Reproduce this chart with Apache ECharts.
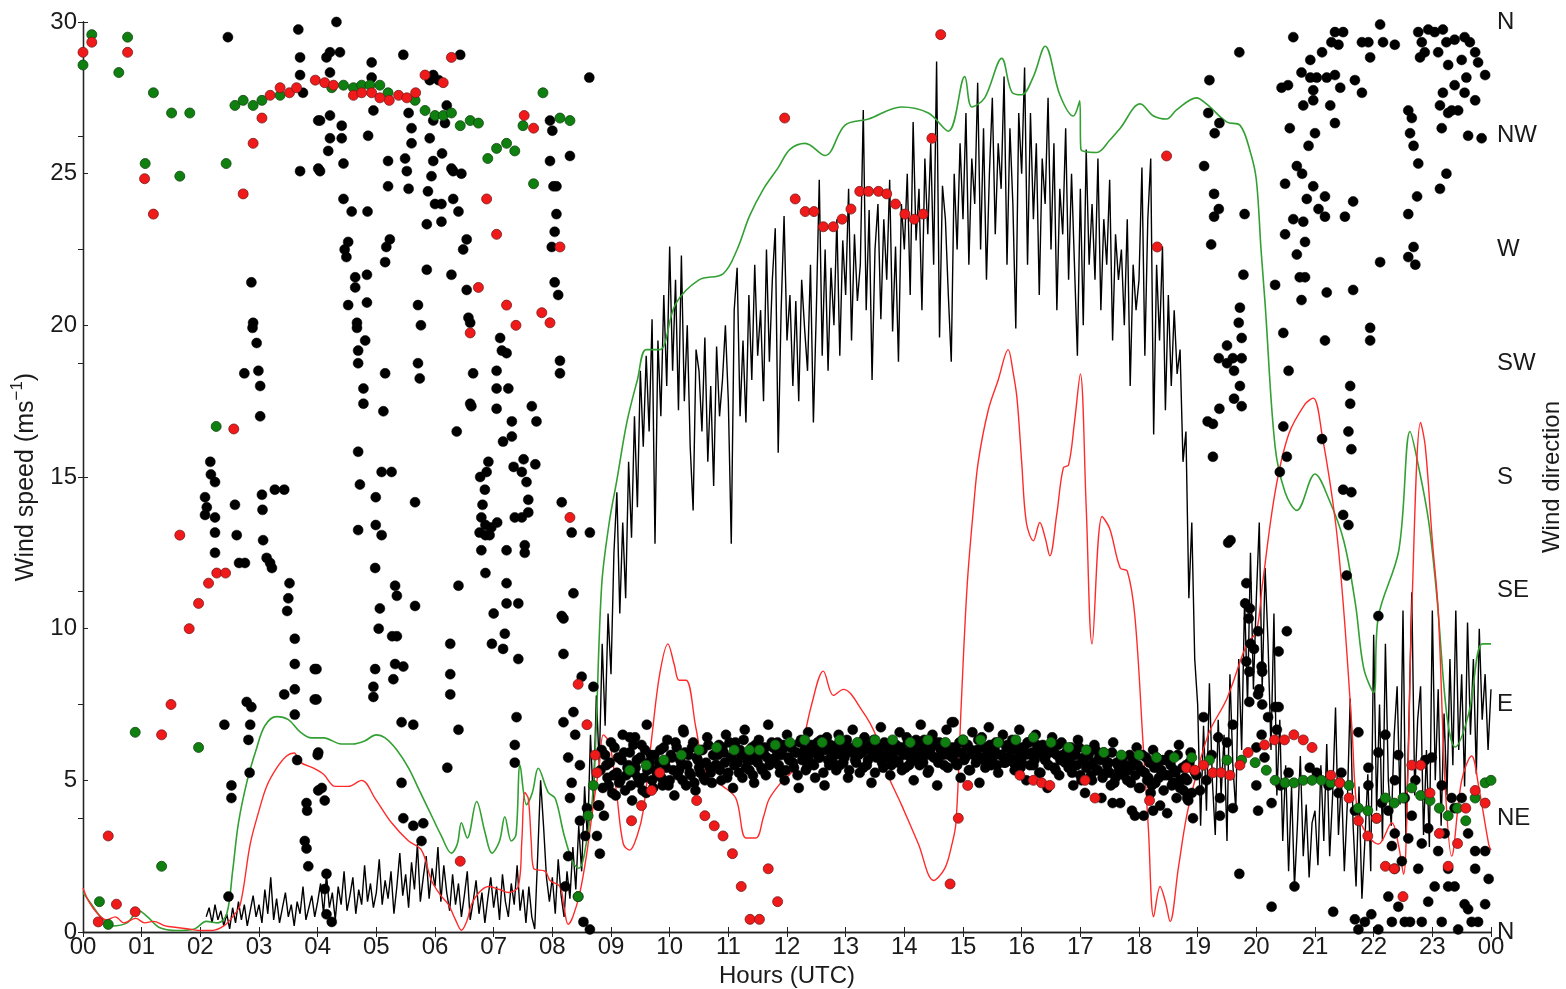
<!DOCTYPE html>
<html>
<head>
<meta charset="utf-8">
<script src="https://cdn.jsdelivr.net/npm/echarts@6/dist/echarts.min.js"></script>
<style>
html,body{margin:0;padding:0;background:#fff;}
#chart{width:1566px;height:989px;}
</style>
</head>
<body>
<div id="chart"></div>
<script>
// ---------- DATA ----------
const dirLabels = ['N','NE','E','SE','S','SW','W','NW','N'];

// black wind speed line: start 2.10 h, step 0.05 h
const blackSpeedStart = 2.10, blackSpeedStep = 0.05;
const blackSpeed = [
 0.5,0.8,0.3,0.9,0.4,0.7,0.2,0.6,0.1,0.8,0.3,1.0,0.4,0.9,0.2,0.7,1.2,0.5,
 0.9,0.3,1.4,0.6,1.8,0.4,1.1,0.3,0.8,1.3,0.5,0.9,0.2,1.0,0.6,1.5,0.4,0.8,1.2,0.5,
 1.0,1.6,0.6,1.9,0.8,1.3,0.4,1.5,0.9,2.0,0.7,1.2,1.8,0.6,1.4,0.9,2.2,1.0,1.6,0.8,
 1.3,2.4,0.9,1.7,1.1,2.0,0.6,1.5,2.6,1.2,1.9,0.8,2.3,1.4,2.9,1.0,1.8,2.5,1.1,2.1,
 1.5,2.8,1.0,2.2,1.3,0.7,1.9,0.9,1.6,0.5,1.2,2.0,0.4,1.0,1.7,0.6,1.3,0.3,1.1,1.8,
 0.8,1.5,0.4,1.9,1.0,0.5,1.6,0.9,2.2,0.7,1.4,0.3,1.5,0.5,0.1,2.5,5.0,3.5,1.8,1.0,
 1.8,0.6,2.4,1.2,0.5,2.0,1.1,2.8,1.4,3.5,2.0,4.8,3.0,6.5,4.2,7.8,5.5,9.5,6.8,10.5,
 8.5,12.5,14.5,10.5,13.5,11.0,15.5,13.0,17.0,14.0,18.5,16.0,19.0,16.5,20.2,12.8,19.5,17.0,21.0,18.0,
 22.6,18.5,21.5,17.2,22.3,17.5,20.0,16.0,13.9,19.2,18.5,16.5,19.6,15.5,18.0,14.7,19.3,17.0,18.2,20.0,
 17.5,12.8,20.5,21.9,17.0,19.5,16.8,21.0,18.2,22.0,19.0,20.5,17.5,22.5,18.8,21.5,23.2,15.8,20.5,23.6,
 19.5,21.0,18.0,20.8,17.5,21.5,19.9,18.5,22.0,16.8,20.5,24.8,19.0,22.5,18.5,21.9,20.0,23.5,19.0,22.8,
 21.0,24.5,19.5,23.0,20.8,22.0,27.1,20.5,23.8,18.2,22.5,24.0,20.2,23.5,21.5,24.8,19.8,22.6,18.8,24.0,
 22.5,25.0,21.0,26.7,22.8,24.5,20.5,25.5,23.0,26.0,22.0,28.7,19.6,24.6,23.5,21.0,18.8,25.0,22.5,26.0,
 23.5,27.0,22.0,25.5,24.0,28.0,22.5,26.5,21.5,25.0,27.5,23.0,26.0,24.5,28.2,22.0,26.5,24.0,19.9,27.0,
 25.0,28.5,22.0,27.0,23.5,26.0,21.0,25.5,24.0,27.5,22.5,26.0,20.5,24.5,23.0,26.5,21.5,25.0,22.0,19.0,
 24.5,20.0,25.8,22.0,24.0,21.5,25.5,20.5,23.5,22.0,24.8,19.5,23.0,21.5,22.5,20.0,23.5,18.0,22.0,20.5,
 21.5,25.2,19.0,23.5,25.5,16.4,22.0,19.5,22.6,17.2,21.0,18.0,20.5,18.4,19.2,15.5,16.5,11.0,13.5,9.0,
 7.5,3.5,6.8,4.0,8.2,5.0,3.2,7.0,4.5,6.5,3.0,8.5,5.5,4.0,9.0,6.0,11.0,7.5,12.5,8.0,
 11.0,13.5,8.0,12.0,9.5,6.0,10.5,4.5,7.0,3.0,5.5,2.0,4.8,1.5,3.5,5.8,2.5,4.2,1.8,3.6,
 4.0,2.2,5.5,3.0,6.2,2.5,4.5,7.4,3.2,5.0,2.0,4.2,7.7,3.5,1.5,4.8,1.1,3.0,5.2,2.0,
 9.8,4.0,7.5,3.0,9.5,5.0,3.5,6.5,8.1,4.2,10.6,3.0,6.8,11.2,4.5,7.0,8.1,3.2,6.0,2.8,
 10.6,5.0,8.0,3.5,7.2,4.5,9.0,5.5,10.6,6.0,8.5,4.8,10.2,6.5,9.0,5.2,10.0,7.0,8.5,6.0,
 8.0
];

// green smooth speed line [hour, m/s]
const greenLine = [
 [0,1.3],[0.15,0.9],[0.3,0.5],[0.5,0.2],[0.75,0.3],[0.95,0.7],[1.1,0.5],[1.3,0.15],[1.6,0.05],[1.9,0.1],
 [2.1,0.35],[2.3,0.3],[2.45,0.6],[2.55,2.0],[2.65,3.6],[2.8,5.0],[2.95,6.0],[3.1,6.8],[3.3,7.1],[3.5,7.0],
 [3.7,6.6],[3.9,6.4],[4.1,6.4],[4.4,6.2],[4.6,6.2],[4.8,6.3],[5.0,6.5],[5.15,6.4],[5.35,6.0],[5.55,5.4],
 [5.75,4.6],[5.95,3.8],[6.1,3.2],[6.28,2.6],[6.38,2.9],[6.45,3.6],[6.55,3.1],[6.71,4.3],[6.85,3.3],[6.97,2.6],
 [7.1,3.0],[7.19,3.8],[7.3,3.0],[7.38,3.2],[7.45,5.5],[7.56,4.2],[7.66,4.6],[7.76,5.4],[7.93,4.6],[8.05,4.4],
 [8.2,3.2],[8.35,2.3],[8.45,2.1],[8.55,2.6],[8.7,4.8],[8.84,11.4],[8.97,13.5],[9.1,14.9],[9.27,16.8],[9.45,18.2],
 [9.6,19.2],[9.83,19.2],[10.1,20.7],[10.5,21.5],[10.91,21.7],[11.15,22.5],[11.36,23.6],[11.6,24.5],[11.85,25.2],[12.05,25.8],
 [12.31,26.0],[12.65,25.6],[12.99,26.6],[13.39,26.8],[13.95,27.2],[14.41,27.0],[14.75,26.4],[15.03,28.2],[15.15,27.2],[15.37,27.5],
 [15.66,28.8],[15.83,27.7],[16.0,27.6],[16.2,28.2],[16.4,29.2],[16.65,27.6],[16.88,26.9],[16.99,27.4],[17.01,25.8],[17.28,25.7],
 [17.5,26.1],[17.68,26.5],[18.02,27.3],[18.25,26.9],[18.47,26.8],[18.64,27.1],[18.98,27.5],[19.15,27.3],[19.5,26.7],[19.72,26.6],
 [19.9,25.7],[20.0,24.8],[20.08,22.5],[20.15,20.7],[20.32,16.0],[20.49,14.5],[20.69,13.9],[21.0,15.1],[21.23,14.3],[21.49,12.9],
 [21.69,10.8],[21.83,8.7],[22.0,7.9],[22.08,10.4],[22.43,12.6],[22.62,16.5],[22.77,15.3],[22.94,13.5],[23.08,11.0],[23.25,7.1],
 [23.39,6.1],[23.62,7.2],[23.85,9.5],[24.0,9.5]
];

// red smooth speed line [hour, m/s]
const redLine = [
 [0,1.45],[0.1,1.0],[0.25,0.6],[0.4,0.4],[0.55,0.5],[0.7,0.3],[0.9,0.45],[1.05,0.3],[1.2,0.35],[1.4,0.2],
 [1.6,0.15],[1.8,0.1],[2.0,0.05],[2.2,0.05],[2.4,0.2],[2.55,0.5],[2.68,0.9],[2.85,2.9],[3.0,4.0],[3.13,4.8],
 [3.3,5.4],[3.47,5.8],[3.6,5.9],[3.7,5.6],[3.93,5.4],[4.1,5.2],[4.3,4.8],[4.52,4.8],[4.75,5.0],[4.98,4.4],
 [5.26,3.6],[5.55,3.0],[5.77,2.7],[5.94,1.7],[6.1,1.2],[6.23,0.9],[6.35,0.4],[6.45,0.06],[6.55,0.4],[6.62,0.9],
 [6.75,1.3],[6.91,1.5],[7.1,1.4],[7.25,1.3],[7.42,1.5],[7.48,3.0],[7.53,4.6],[7.59,4.4],[7.64,3.0],[7.68,2.1],
 [7.88,2.0],[7.96,1.7],[8.13,1.5],[8.2,0.8],[8.27,0.25],[8.35,0.5],[8.47,1.3],[8.58,2.5],[8.7,4.2],[8.8,5.5],
 [8.87,6.5],[8.98,6.2],[9.1,4.5],[9.21,2.9],[9.32,2.7],[9.45,3.2],[9.55,4.0],[9.7,6.5],[9.83,8.5],[9.97,9.5],
 [10.08,8.8],[10.16,8.3],[10.28,8.3],[10.45,6.7],[10.62,5.2],[10.91,4.8],[11.13,4.4],[11.3,3.1],[11.47,3.1],[11.6,3.8],
 [11.7,4.4],[11.93,5.0],[12.05,5.2],[12.19,5.6],[12.42,7.5],[12.62,8.6],[12.79,7.8],[12.96,8.0],[13.28,7.3],[13.51,6.5],
 [13.67,5.4],[13.95,4.2],[14.24,2.9],[14.5,1.7],[14.69,2.1],[14.8,2.8],[14.88,3.6],[14.97,7.5],[15.07,11.4],[15.18,14.0],
 [15.26,15.5],[15.43,17.2],[15.6,18.2],[15.77,19.2],[15.85,18.5],[15.92,17.6],[16.0,15.5],[16.08,13.5],[16.2,12.9],[16.31,13.5],
 [16.4,13.0],[16.48,12.4],[16.6,13.8],[16.71,15.3],[16.8,15.4],[16.9,16.8],[17.0,18.4],[17.1,14.0],[17.2,9.5],[17.37,13.7],
 [17.5,13.3],[17.68,12.0],[17.8,11.9],[17.93,10.4],[18.07,6.2],[18.16,3.4],[18.25,0.5],[18.36,1.5],[18.45,1.0],[18.53,0.35],
 [18.67,2.1],[18.81,3.8],[18.98,5.2],[19.2,6.6],[19.5,7.7],[19.84,9.5],[20.0,9.9],[20.1,11.4],[20.32,14.5],[20.55,16.4],
 [20.83,17.4],[20.97,17.6],[21.12,16.4],[21.35,13.5],[21.49,10.6],[21.63,6.7],[21.72,4.0],[21.86,3.3],[22.08,2.9],[22.31,3.6],
 [22.42,2.9],[22.51,1.9],[22.58,5.0],[22.65,10.6],[22.8,16.8],[22.88,16.0],[23.0,12.9],[23.1,10.6],[23.22,4.8],[23.33,2.5],
 [23.5,5.0],[23.67,5.8],[23.79,4.8],[23.96,2.9],[24.0,2.7]
];

// black wind direction dots, scattered [hour, degrees]
const blackDirScatter = [
 [2.47,354],[3.67,357],[3.70,346],[3.70,339],[3.75,332],[4.01,321],[3.70,301],[4.01,302],[2.87,257],[2.90,241],[2.89,239],[2.96,233],
 [2.75,221],[2.99,222],[3.02,216],[3.02,204],[2.17,186],[2.18,181],[2.25,178],[2.08,172],[2.11,168],[2.25,164],[2.08,165],[2.25,158],
 [2.25,150],[2.59,169],[2.62,157],[2.66,146],[2.76,146],[3.05,173],[3.06,167],[3.07,155],[3.13,148],[3.22,144],[3.19,146],[3.27,175],
 [3.43,175],[3.52,138],[3.50,132],[3.48,127],[3.61,116],[3.61,106],[3.95,104],[3.43,94],[3.61,96],[3.61,86],[3.95,92],[2.79,91],
 [2.87,89],[2.41,82],[2.85,82],[2.82,76],[2.84,63],[3.65,68],[2.53,58],[2.53,53],[3.81,51],[3.82,48],[4.01,56],[3.78,36],[3.81,33],
 [3.84,26],[2.48,14],[4.0,70],
 [4.32,360],[4.21,348],[4.38,348],[4.15,346],[4.92,344],[5.46,347],[4.21,340],[4.92,338],[6.43,347],[5.97,339],[5.91,337],[6.06,337],
 [4.04,321],[4.21,323],[4.41,319],[4.95,325],[5.55,324],[5.60,318],[6.20,327],[5.97,321],[6.17,320],[4.21,314],[4.41,314],[4.86,315],
 [5.60,312],[5.91,314],[4.18,309],[6.12,308],[4.04,301],[4.44,304],[5.20,305],[5.49,306],[5.97,305],[6.28,302],[6.45,300],[5.20,295],
 [5.52,301],[5.55,294],[5.94,299],[5.88,293],[6.31,301],[4.44,290],[4.58,285],[4.85,285],[5.86,280],[6.00,288],[6.11,288],[6.11,281],
 [6.31,290],[6.40,285],[4.52,273],[4.46,270],[4.49,267],[5.23,274],[5.17,271],[5.15,265],[6.54,274],[6.48,270],[5.86,262],[6.28,260],
 [4.64,259],[4.84,260],[4.64,255],[4.52,248],[4.84,249],[4.67,241],[4.67,239],[4.81,234],[4.69,230],[4.69,225],[5.71,248],[5.76,240],
 [5.71,225],[5.74,219],[6.54,254],[6.57,243],[6.60,241],[7.11,235],[7.14,230],[7.22,229],[7.05,222],[5.15,221],[6.65,221],[4.78,215],
 [4.78,209],[5.12,206],[6.60,209],[6.62,208],[7.05,215],[7.25,215],[7.05,207],[7.31,202],[7.65,208],[7.73,202],[6.37,198],[7.31,196],
 [7.16,194],[4.69,190],[5.09,182],[5.26,182],[4.72,177],[6.91,186],[6.88,182],[6.77,180],[6.85,175],[7.34,184],[7.51,187],[7.48,182],
 [7.56,178],[7.71,185],[4.99,172],[5.66,170],[7.59,171],[7.59,166],[4.69,159],[4.99,161],[5.09,157],[6.81,169],[6.79,164],[6.86,161],
 [6.96,160],[7.06,162],[6.76,158],[6.86,157],[6.79,151],[6.93,157],[7.36,164],[7.48,164],[7.22,151],[7.53,153],[7.53,150],[4.98,144],
 [6.86,142],[7.22,138],[5.32,137],[5.35,133],[6.40,137],[7.22,130],[7.42,130],[5.06,128],[5.66,129],[7.00,126],[5.04,120],[5.27,117],
 [5.35,117],[6.26,114],[6.97,114],[7.19,118],[7.16,112],[7.42,108],[3.98,104],[4.98,104],[5.32,106],[5.46,105],[6.26,102],[5.29,100],
 [4.95,97],[3.98,92],[4.95,93],[6.26,94],[5.43,83],[5.63,82],[6.40,80],[7.39,85],[7.36,74],[4.01,71],[7.36,67],[6.21,65],[5.43,59],
 [4.07,57],[4.12,52],[5.46,45],[5.63,42],[5.80,43],[5.77,36],[4.15,23],[4.12,17],[4.15,7],[4.24,4],
 [8.63,338],[8.0,317],[7.96,321],[8.30,307],[7.96,305],[8.02,295],[8.07,295],[8.07,284],[8.04,277],[7.99,271],[8.04,257],[8.10,252],
 [8.13,226],[8.13,221],[8.16,170],[8.33,158],[8.64,158],[8.36,134],[8.16,125],[8.19,124],[8.19,110],[8.70,97],[8.50,101],[8.19,83],
 [8.36,87],[8.27,69],[8.39,78],[8.47,66],[8.33,59],[8.59,49],[8.30,53],[8.47,44],[8.78,50],[8.56,38],[8.76,38],[8.81,31],[8.27,30],
 [8.22,18],[8.44,14],[8.53,4],[8.64,1],[9.61,82],[9.32,77],[9.41,77],[10.23,80],[14.81,83],[17.93,46],[18.24,48],[17.55,51],
 [19.71,348],[19.20,337],[19.18,324],[19.37,320],[19.29,316],[19.11,303],[19.28,292],[19.36,286],[19.28,283],[19.80,284],[19.23,272],
 [19.78,260],[19.72,247],[19.70,241],[19.75,235],[19.50,232],[19.36,227],[19.50,225],[19.60,227],[19.75,227],[19.62,222],[19.72,216],
 [19.62,211],[19.75,208],[19.37,207],[19.17,202],[19.26,201],[19.26,188],[19.56,155],[19.52,154],[19.83,138],[19.81,130],[19.89,128],
 [19.87,124],[19.90,114],[19.96,112],[19.83,107],[19.88,103],[20.10,103],[20.05,96],[19.88,91],[20.10,90],[19.60,82],[19.50,75],
 [19.35,77],[18.70,60],[18.82,53],[19.15,60],[19.38,53],[19.60,49],[19.38,46],[19.04,56],[19.71,23],[19.10,85],[19.24,70],
 [20.63,354],[21.34,356],[21.48,356],[21.28,352],[21.80,352],[21.91,352],[21.94,346],[22.11,359],[22.16,352],[22.36,351],[22.76,356],
 [22.93,357],[23.04,356],[23.18,357],[22.82,352],[22.79,346],[22.87,348],[23.24,352],[23.38,353],[23.55,354],[23.64,352],[23.73,348],
 [23.78,344],[23.90,339],[23.10,348],[23.27,343],[23.50,345],[23.58,338],[23.38,335],[23.18,332],[23.55,332],[23.73,329],[23.13,327],
 [23.33,325],[23.44,325],[23.27,324],[23.16,318],[23.61,315],[23.84,314],[23.24,300],[23.13,294],[22.59,325],[22.65,322],[22.62,316],
 [22.68,311],[22.76,304],[22.74,291],[22.59,284],[22.68,271],[22.59,267],[22.71,264],[22.11,265],[21.94,239],[21.94,234],
 [20.92,345],[21.12,348],[21.40,351],[20.77,340],[20.92,338],[21.03,338],[21.20,338],[21.34,339],[21.68,337],[20.43,334],[20.54,335],
 [20.97,333],[21.43,334],[20.80,327],[20.97,329],[21.26,327],[21.80,332],[20.57,318],[21.34,320],[21.00,316],[20.89,311],[20.69,303],
 [20.78,300],[20.49,296],[20.97,295],[21.17,291],[21.65,289],[20.86,290],[21.06,286],[21.17,283],[21.51,283],[20.63,282],[20.80,281],
 [20.49,276],[20.83,273],[20.69,268],[20.74,259],[20.83,259],[20.77,250],[21.20,253],[21.65,254],[20.32,256],[20.46,237],[21.17,234],
 [20.55,222],[21.60,216],[21.60,209],[21.57,198],[21.62,191],[20.46,200],[20.52,188],[20.40,182],[21.12,195],[21.48,175],[21.62,174],
 [21.48,165],[21.57,161],[21.54,141],[22.08,125],[20.52,119],[20.38,111],[20.32,89],[20.03,119],[20.09,105],[20.03,94],[20.20,85],
 [20.09,78],[20.00,73],[20.14,69],[20.00,58],[20.03,48],
 [20.65,18],[20.26,10],[21.31,8],[21.68,5],[21.74,1],[21.85,4],[21.96,7],[22.08,1],[22.25,14],[22.31,4],[22.42,10],[22.53,4],[22.62,4],
 [22.82,4],[22.93,12],[23.04,18],[23.16,4],[23.27,18],[23.44,1],[23.55,11],[23.67,4],[23.78,4],[23.90,11],[22.31,34],[22.36,25],
 [22.48,28],[22.76,25],[22.25,48],[22.36,39],[22.14,51],[21.91,58],[21.68,48],[21.91,65],[22.08,71],[22.20,78],[21.74,79],[21.45,63],
 [21.40,55],[21.23,58],[20.91,65],[21.03,63],[20.55,63],[20.41,58],[20.26,51],[20.38,89],[20.35,80],[22.99,69],[23.16,58],[23.33,53],
 [23.38,49],[23.50,53],[23.61,39],[23.21,39],[23.10,32],[23.27,25],[22.82,35],[22.59,37],[23.73,32],[23.90,32],[23.73,25],[23.96,21],
 [23.38,18],[23.61,9],[22.93,41],[22.65,46],[22.53,53],[22.36,60],[22.42,70],[22.71,60],[22.88,68]
];

// black wind direction dots, dense band (two interleaved runs, 0.04 h step)
const bandStep = 0.04;
const bandStartA = 8.80;
const bandA = [
 50,72,46,66,58,75,62,54,69,60,78,56,65,71,52,63,68,59,74,61,55,67,70,57,64,
 62,72,58,67,76,60,69,54,73,64,66,79,58,70,62,75,56,68,63,72,60,77,65,59,70,
 66,74,60,71,78,63,69,57,75,67,72,61,80,68,64,73,59,70,76,65,71,62,82,67,73,
 69,75,63,72,60,78,68,74,65,71,57,76,70,64,79,67,73,61,75,69,72,58,77,66,71,
 73,64,78,70,67,75,61,72,80,68,74,63,71,77,66,73,59,76,69,72,81,65,74,70,62,
 75,68,72,79,64,71,77,66,73,60,76,70,82,67,74,63,71,78,69,58,75,72,66,80,70,
 73,83,67,71,61,76,69,74,64,79,70,72,59,77,68,73,81,66,71,75,63,70,78,67,74,
 69,76,64,72,80,67,73,60,75,70,66,78,71,63,74,68,57,73,77,65,70,62,75,68,71,
 65,73,58,70,76,62,68,55,72,66,60,74,64,69,53,71,63,67,58,75,61,66,51,69,64,
 60,70,48,66,73,57,64,46,69,61,55,72,59,65,50,68,62,47,70,58,64,53,74,60,56,
 66,52,71,45,63
];
const bandStartB = 8.82;
const bandB = [
 64,57,70,61,67,55,73,63,59,68,71,62,66,58,74,65,61,69,56,72,64,67,60,70,63,
 67,61,73,65,58,70,64,75,62,68,60,71,66,63,73,59,69,65,72,61,67,74,63,70,66,
 70,64,73,67,61,75,69,66,72,63,70,76,65,71,68,62,74,67,70,64,73,69,66,75,68,
 72,66,70,74,64,69,73,67,71,62,75,68,72,65,70,74,66,71,69,76,63,72,68,74,67,
 70,74,66,72,69,76,64,71,73,67,70,75,65,72,68,74,70,63,73,71,67,75,69,72,66,
 71,74,67,73,70,65,75,69,72,68,74,66,71,76,70,64,73,69,75,67,72,70,74,65,71,
 69,73,66,75,71,68,74,64,72,70,67,76,69,73,65,71,74,68,72,66,75,70,67,73,69,
 72,67,74,69,65,73,70,75,66,71,68,74,63,72,69,70,66,73,71,64,74,68,70,67,72,
 68,63,71,66,73,60,69,65,70,62,67,72,64,68,61,70,66,63,71,59,67,64,69,62,66,
 64,59,68,62,66,57,70,63,60,67,58,65,69,61,64,56,68,62,66,59,63,70,57,65,61,
 60,67,55,64,62
];

// green direction dots [hour, degrees]
const greenDir = [
 [0.0,343],[0.15,355],[0.76,354],[0.61,340],[1.2,332],[1.51,324],[1.82,324],[1.06,304],[1.65,299],[2.44,304],[2.59,327],[2.73,329],
 [2.90,327],[3.05,329],[3.36,331],[2.27,200],[0.89,79],[1.97,73],[1.34,26],[0.28,12],[0.43,3],
 [4.24,334],[4.44,335],[4.61,334],[4.75,335],[4.89,335],[5.06,335],[5.2,332],[5.66,329],[5.83,325],[6.0,323],[6.14,323],[6.28,324],
 [6.43,319],[6.6,321],[6.74,320],[6.9,306],[7.05,310],[7.22,312],[7.36,309],[7.5,319],[7.68,296],[7.84,332],[8.13,322],[8.3,321],
 [8.44,14],[8.61,46],[8.7,58],[9.32,64],[9.6,66],[9.9,68],[10.2,70],[10.5,72],[10.8,73],[11.1,72],[11.36,72],[11.53,72],[11.8,74],
 [12.05,75],[12.3,76],[12.6,75],[12.9,76],[13.2,75],[13.5,76],[13.8,76],[14.1,75],[14.4,76],[14.7,75],[15.0,76],[15.3,76],[15.6,75],
 [15.9,76],[16.2,77],[16.5,75],[16.8,73],[17.1,72],[17.4,71],[17.7,70],[18.0,70],[18.3,69],[18.6,69],[18.9,69],[19.2,68],[19.5,68],
 [19.75,68],[19.98,67],[20.17,64],[20.32,60],[20.49,59],[20.64,59],[20.8,60],[20.95,60],[21.11,60],[21.27,59],[21.42,59],[21.58,58],
 [21.74,49],[21.9,48],[22.05,45],[22.2,53],[22.35,51],[22.5,53],[22.65,57],[22.8,54],[22.96,52],[23.12,49],[23.27,46],[23.43,49],
 [23.57,44],[23.73,53],[23.9,59],[24.0,60]
];

// red direction dots [hour, degrees]
const redDir = [
 [0.0,348],[0.15,352],[0.76,348],[1.05,298],[1.2,284],[3.05,322],[2.9,312],[2.73,292],[2.57,199],[1.65,157],[2.14,138],[2.28,142],
 [2.43,142],[1.97,130],[1.81,120],[1.5,90],[1.34,78],[0.43,38],[0.57,11],[0.89,8],[0.26,4],
 [3.19,331],[3.36,334],[3.52,332],[3.64,334],[3.96,337],[4.12,336],[4.27,335],[4.61,331],[4.75,332],[4.92,332],[5.06,330],[5.22,329],
 [5.38,331],[5.52,330],[5.67,332],[5.83,339],[6.14,336],[6.28,346],[6.88,290],[7.05,276],[6.74,255],[6.6,237],[7.22,248],[7.38,240],
 [7.52,323],[7.68,318],[7.82,245],[7.96,241],[6.43,28],
 [8.13,271],[8.3,164],[8.44,98],[8.59,82],[8.73,70],[8.76,63],[9.83,63],[9.69,56],[9.52,50],[9.35,44],[10.46,52],[10.6,46],
 [10.76,42],[10.91,38],[11.07,31],[11.22,18],[11.37,5],[11.53,5],[11.68,25],[11.84,12],[11.96,322],
 [12.14,290],[12.31,285],[12.46,285],[12.62,279],[12.79,279],[12.94,282],[13.09,286],[13.24,293],[13.39,293],[13.56,293],[13.7,292],
 [13.85,288],[14.01,284],[14.17,282],[14.32,284],[14.47,314],[14.62,355],[15.08,58],[14.92,45],[14.78,19],[15.97,62],[16.2,60],
 [16.34,59],[16.48,58],[17.08,60],[17.25,53],[18.18,52],[18.47,307],[18.31,271],[18.81,65],[18.95,64],[19.1,66],[19.26,63],[19.4,63],
 [19.55,62],[19.72,66],[19.86,71],[20.14,74],[20.31,76],[20.48,76],[20.64,78],[20.8,76],[20.95,73],[21.27,62],[21.42,59],[21.58,53],
 [21.74,44],[21.9,38],[22.05,45],[22.2,26],[22.35,25],[22.5,14],[22.65,66],[22.8,66],[22.96,55],[23.12,39],[23.27,26],[23.43,35],
 [23.57,49],[23.73,56],[23.9,51]
];

// ---------- CHART ----------
const FONT = '"Liberation Sans", Arial, sans-serif';
const TXT = '#1a1a1a';
const FS = 24;
const r2 = v => Math.round(v * 1000) / 1000;

const blackSpeedData = blackSpeed.map((v, i) => [r2(blackSpeedStart + i * blackSpeedStep), v]);
const bandData = bandA.map((d, i) => [r2(bandStartA + i * bandStep), d])
  .concat(bandB.map((d, i) => [r2(bandStartB + i * bandStep), d]));
const blackDirData = blackDirScatter.concat(bandData);

const chart = echarts.init(document.getElementById('chart'), null, {renderer: 'canvas'});
const frame = {show: true, lineStyle: {color: '#222', width: 1.3}};
const tick = {show: true, inside: true, length: 5, lineStyle: {color: '#222', width: 1}};

chart.setOption({
  animation: false,
  backgroundColor: '#fff',
  grid: {left: 83, right: 75, top: 22, bottom: 57, containLabel: false, outerBoundsMode: 'none'},
  xAxis: [{
    type: 'value', position: 'bottom', min: 0, max: 24, interval: 1,
    axisLine: frame, axisTick: tick, splitLine: {show: false},
    axisLabel: {
      color: TXT, fontFamily: FONT, fontSize: FS, margin: 3,
      formatter: v => String(Math.round(v) % 24).padStart(2, '0')
    },
    name: 'Hours (UTC)', nameLocation: 'middle', nameGap: 28,
    nameTextStyle: {color: TXT, fontFamily: FONT, fontSize: FS}
  }, {
    type: 'value', position: 'top', min: 0, max: 24, interval: 1,
    axisLine: frame, axisTick: tick, splitLine: {show: false}, axisLabel: {show: false}
  }],
  yAxis: [{
    type: 'value', position: 'left', min: 0, max: 30, interval: 5,
    axisLine: frame, axisTick: tick, splitLine: {show: false},
    axisLabel: {color: TXT, fontFamily: FONT, fontSize: FS, margin: 6},
    name: '{a|Wind speed (ms}{b|−1}{a|)}', nameLocation: 'middle', nameGap: 44, nameRotate: 90,
    nameTextStyle: {
      color: TXT, fontFamily: FONT, fontSize: FS,
      rich: {
        a: {color: TXT, fontFamily: FONT, fontSize: 25, lineHeight: 30, verticalAlign: 'bottom'},
        b: {color: TXT, fontFamily: FONT, fontSize: 17, lineHeight: 30, verticalAlign: 'top'}
      }
    }
  }, {
    type: 'value', position: 'right', min: 0, max: 360, interval: 45,
    axisLine: frame, axisTick: tick, splitLine: {show: false},
    axisLabel: {
      color: TXT, fontFamily: FONT, fontSize: FS, margin: 6,
      formatter: v => dirLabels[Math.round(v / 45)]
    },
    name: 'Wind direction', nameLocation: 'middle', nameGap: 49, nameRotate: 90,
    nameMoveOverlap: false,
    nameTextStyle: {color: TXT, fontFamily: FONT, fontSize: FS}
  }],
  series: [
    {
      name: 'speed', type: 'line', xAxisIndex: 0, yAxisIndex: 0, data: blackSpeedData,
      showSymbol: false, symbol: 'none', lineStyle: {color: '#000', width: 1.4}, z: 2
    },
    {
      name: 'green speed', type: 'line', xAxisIndex: 0, yAxisIndex: 0, data: greenLine,
      showSymbol: false, symbol: 'none', smooth: 0.35, lineStyle: {color: '#33a033', width: 1.6}, z: 3
    },
    {
      name: 'red speed', type: 'line', xAxisIndex: 0, yAxisIndex: 0, data: redLine,
      showSymbol: false, symbol: 'none', smooth: 0.35, lineStyle: {color: '#ff2b2b', width: 1.4}, z: 3
    },
    {
      name: 'direction', type: 'scatter', xAxisIndex: 0, yAxisIndex: 1, data: blackDirData,
      symbol: 'circle', symbolSize: 10, itemStyle: {color: '#000', borderColor: '#000', borderWidth: 0.5, opacity: 1}, z: 4
    },
    {
      name: 'green direction', type: 'scatter', xAxisIndex: 0, yAxisIndex: 1, data: greenDir,
      symbol: 'circle', symbolSize: 10, itemStyle: {color: '#0f7f0f', borderColor: '#124612', borderWidth: 0.8, opacity: 1}, z: 5
    },
    {
      name: 'red direction', type: 'scatter', xAxisIndex: 0, yAxisIndex: 1, data: redDir,
      symbol: 'circle', symbolSize: 10, itemStyle: {color: '#f01a1a', borderColor: '#7a1a1a', borderWidth: 0.8, opacity: 1}, z: 6
    }
  ]
});
</script>
</body>
</html>
